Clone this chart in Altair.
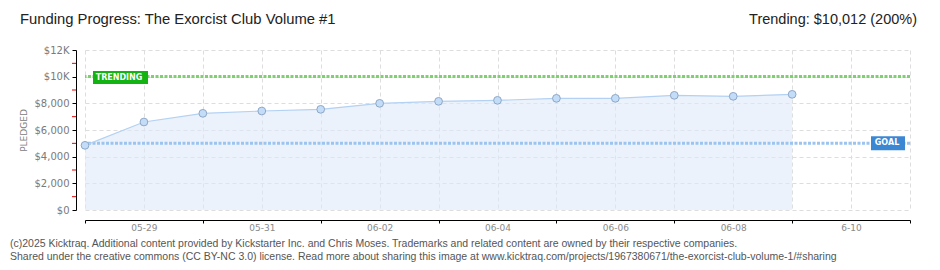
import altair as alt
import pandas as pd

# ---- data ----
dates = ["2025-05-28", "2025-05-29", "2025-05-30", "2025-05-31", "2025-06-01",
         "2025-06-02", "2025-06-03", "2025-06-04", "2025-06-05", "2025-06-06",
         "2025-06-07", "2025-06-08", "2025-06-09"]
pledged = [4850, 6600, 7250, 7425, 7550, 8000, 8150, 8225, 8375, 8375, 8600, 8525, 8675]
goal = 5000
trending = 10012

x_start = "2025-05-28"
x_end = "2025-06-11"
x_label_dates = ["2025-05-29", "2025-05-31", "2025-06-02", "2025-06-04",
                 "2025-06-06", "2025-06-08", "2025-06-10"]
x_label_text = ["05-29", "05-31", "06-02", "06-04", "06-06", "06-08", "6-10"]

y_label_values = [0, 2000, 4000, 6000, 8000, 10000, 12000]
y_label_text = ["$0", "$2,000", "$4,000", "$6,000", "$8,000", "$10K", "$12K"]
y_minor_values = [1000, 3000, 5000, 7000, 9000, 11000]

title_left = "Funding Progress: The Exorcist Club Volume #1"
title_right = "Trending: $10,012 (200%)"
footer_1 = ("(c)2025 Kicktraq. Additional content provided by Kickstarter Inc. and Chris Moses. "
            "Trademarks and related content are owned by their respective companies.")
footer_2 = ("Shared under the creative commons (CC BY-NC 3.0) license. Read more about sharing this "
            "image at www.kicktraq.com/projects/1967380671/the-exorcist-club-volume-1/#sharing")


def ms(d):
    return int(pd.Timestamp(d, tz="UTC").value // 10**6)


START = ms(x_start)
END = ms(x_end)
day_ticks = [ms(d) for d in pd.date_range(x_start, x_end, freq="D").strftime("%Y-%m-%d")]

df = pd.DataFrame({"date": [ms(d) for d in dates], "pledged": pledged})

x_expr = "''"
for d, t in zip(reversed(x_label_dates), reversed(x_label_text)):
    x_expr = f"time(datum.value) == {ms(d)} ? '{t}' : ({x_expr})"

y_expr = "''"
for v, t in zip(reversed(y_label_values), reversed(y_label_text)):
    y_expr = f"+datum.value == {v} ? '{t}' : ({y_expr})"

even_day = f"round((time(datum.value) - {START}) / 86400000) % 2 == 0"

AXIS_FONT = "DejaVu Sans"

x_scale = alt.Scale(type="utc", domain=[START, END])
x_axis = alt.Axis(
    values=day_ticks,
    labelExpr=x_expr,
    tickOpacity={"condition": {"test": even_day, "value": 1}, "value": 0},
    grid=True, gridDash=[4, 3], gridColor="#dddddd", gridWidth=1,
    domainColor="#000000", tickColor="#000000", tickSize=3, tickWidth=1,
    offset=10, labelPadding=0, labelFont=AXIS_FONT, labelFontSize=9,
    labelColor="#8a8a8a", labelOverlap=False, labelFlush=False, title=None,
)
y_scale = alt.Scale(domain=[0, 12000], nice=False)
y_axis = alt.Axis(
    values=y_label_values,
    labelExpr=y_expr,
    grid=True, gridDash=[4, 3], gridColor="#dddddd",
    domainColor="#000000", tickColor="#000000", tickSize=4, offset=9, labelPadding=3,
    labelFont=AXIS_FONT, labelFontSize=10, labelColor="#7a7a7a",
    title="PLEDGED", titleFont=AXIS_FONT, titleFontSize=9, titleFontWeight="normal",
    titleColor="#808080", titlePadding=6, titleAngle=270,
    labelOverlap=False,
)


def X(field):
    return alt.X(field, type="temporal", scale=x_scale, axis=x_axis)


def Y(field):
    return alt.Y(field, type="quantitative", scale=y_scale, axis=y_axis)


base = alt.Chart(df)
area = base.mark_area(color="#dde9fa", opacity=0.6).encode(x=X("date"), y=Y("pledged"))
line = base.mark_line(color="#b3d1f3", strokeWidth=1.2).encode(x=X("date"), y=Y("pledged"))
points = base.mark_point(filled=True, size=60, fill="#c3dcf7", stroke="#8ea7c6",
                         strokeWidth=1, opacity=1).encode(x=X("date"), y=Y("pledged"))

# red minor ticks on the y axis
minor_df = pd.DataFrame({"pledged": y_minor_values})
minor_ticks = alt.Chart(minor_df).mark_tick(
    orient="horizontal", color="#e00000", size=4, thickness=1, opacity=1,
).encode(x=alt.value(-11), y=Y("pledged"))

goal_df = pd.DataFrame({"pledged": [goal]})
trend_df = pd.DataFrame({"pledged": [trending]})
goal_rule = alt.Chart(goal_df).mark_rule(color="#9cc4ee", strokeWidth=3, strokeDash=[3, 1.5]).encode(
    y=Y("pledged"))
trend_rule = alt.Chart(trend_df).mark_rule(color="#80d071", strokeWidth=3, strokeDash=[3, 1.5]).encode(
    y=Y("pledged"))

trend_lab_df = pd.DataFrame({"date": [START], "pledged": [trending], "text": ["TRENDING"]})
goal_lab_df = pd.DataFrame({"date": [END], "pledged": [goal], "text": ["GOAL"]})

trend_box = alt.Chart(trend_lab_df).mark_point(
    shape="M-1,-0.236H1V0.236H-1Z", size=3025, filled=True, fill="#12b312", opacity=1,
    xOffset=35.5, yOffset=1, strokeWidth=0,
).encode(x=X("date"), y=Y("pledged"))
trend_txt = alt.Chart(trend_lab_df).mark_text(
    color="white", font=AXIS_FONT, fontSize=8, fontWeight="bold", xOffset=34, yOffset=1,
    baseline="middle", align="center",
).encode(x=X("date"), y=Y("pledged"), text="text:N")

goal_box = alt.Chart(goal_lab_df).mark_point(
    shape="M-1,-0.412H1V0.412H-1Z", size=1156, filled=True, fill="#3b87d4", opacity=1,
    xOffset=-22, strokeWidth=0,
).encode(x=X("date"), y=Y("pledged"))
goal_txt = alt.Chart(goal_lab_df).mark_text(
    color="white", font=AXIS_FONT, fontSize=8, fontWeight="bold", xOffset=-23,
    baseline="middle", align="center",
).encode(x=X("date"), y=Y("pledged"), text="text:N")

tl = alt.Chart(pd.DataFrame({"t": [title_left]})).mark_text(
    font="Liberation Sans", fontSize=14.8, color="#222222", align="left", baseline="middle",
).encode(x=alt.value(-65), y=alt.value(-30), text="t:N")
tr = alt.Chart(pd.DataFrame({"t": [title_right]})).mark_text(
    font="Liberation Sans", fontSize=14.5, color="#222222", align="right", baseline="middle",
).encode(x=alt.value(832), y=alt.value(-30), text="t:N")
f1 = alt.Chart(pd.DataFrame({"t": [footer_1]})).mark_text(
    font="Liberation Sans", fontSize=10.5, color="#555555", align="left", baseline="middle",
).encode(x=alt.value(-75), y=alt.value(194), text="t:N")
f2 = alt.Chart(pd.DataFrame({"t": [footer_2]})).mark_text(
    font="Liberation Sans", fontSize=10.5, color="#555555", align="left", baseline="middle",
).encode(x=alt.value(-75), y=alt.value(207), text="t:N")

chart = alt.layer(
    area, goal_rule, trend_rule, line, points, minor_ticks,
    trend_box, trend_txt, goal_box, goal_txt, tl, tr, f1, f2,
).properties(
    width=825, height=160,
    autosize=alt.AutoSizeParams(type="none"),
    padding={"left": 77, "top": 42, "right": 22, "bottom": 52},
    background="white",
).configure_view(strokeWidth=0).configure_axis(labelOverlap=False)

chart.save("out.html", embed_options={"renderer": "svg", "actions": False})
